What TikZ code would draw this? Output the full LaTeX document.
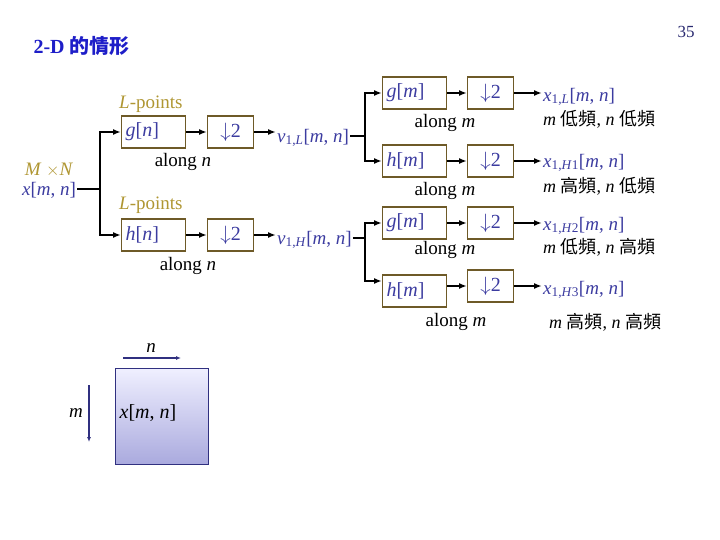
\documentclass[tikz,border=0pt]{standalone}
\usepackage{fontspec}
\setmainfont{Liberation Serif}
\newfontfamily\cjk{Noto Sans CJK TC}
\usetikzlibrary{arrows.meta}
\definecolor{tb}{RGB}{60,60,160}
\definecolor{ol}{RGB}{175,150,50}
\definecolor{bx}{RGB}{110,90,40}
\definecolor{ttl}{RGB}{30,30,200}
\newcommand{\ii}[1]{\textit{#1}}
\newcommand{\sbs}[1]{\textsubscript{#1}}
\begin{document}
\begin{tikzpicture}[x=1pt,y=-1pt,
  box/.style={draw=bx,line width=1.3pt,minimum height=32pt,inner sep=0pt,text=tb,font=\fontsize{20}{20}\selectfont},
  fbox/.style={box,text width=56pt,inner xsep=4pt,align=left},
  dbox/.style={box,minimum width=46pt},
  lab/.style={font=\fontsize{19}{19}\selectfont,inner sep=1pt},
  blu/.style={lab,text=tb},
  arr/.style={-{Latex[length=8pt,width=6pt]},line width=1.6pt},
  ln/.style={line width=1.2pt}]
\useasboundingbox (0,0) rectangle (720,540);
\node[anchor=west,text=ttl,font=\bfseries\fontsize{20}{20}\selectfont] (title) at (30,46) {2-D {\cjk 的情形}};
\node[text=tb!70!black,font=\fontsize{17}{17}\selectfont] (pg) at (686,32) {35};
% input
\node[lab,text=ol] (mn) at (49,170) {\ii{M} $\times$\ii{N}};
\node[blu] (x) at (49,190) {\ii{x}[\ii{m}, \ii{n}]};
\coordinate (sp) at (100,189);
\draw[ln] (x.east|-sp) -- (sp);
\node[fbox,anchor=west] (g1) at (121,132) {\ii{g}[\ii{n}]};
\node[dbox,anchor=west] (d1) at (207,132) {$\downarrow$2};
\node[fbox,anchor=west] (h1) at (121,235) {\ii{h}[\ii{n}]};
\node[dbox,anchor=west] (d2) at (207,235) {$\downarrow$2};
\draw[arr] (sp) |- (g1.west);
\draw[arr] (sp) |- (h1.west);
\draw[arr] (g1) -- (d1);
\draw[arr] (h1) -- (d2);
\node[lab,text=ol,anchor=west] (lp1) at (118,104) {\ii{L}-points};
\node[lab,text=ol,anchor=west] (lp2) at (118,205) {\ii{L}-points};
\node[lab] (an1) at (183,162) {along \ii{n}};
\node[lab] (an2) at (188,266) {along \ii{n}};
\node[blu,anchor=west] (v1) at (276,138) {\ii{v}\sbs{1,\ii{L}}[\ii{m}, \ii{n}]};
\node[blu,anchor=west] (v2) at (276,240) {\ii{v}\sbs{1,\ii{H}}[\ii{m}, \ii{n}]};
\draw[arr] (d1) -- (v1.west|-d1);
\draw[arr] (d2) -- (v2.west|-d2);
% right stage
\coordinate (s1) at (365,136);
\coordinate (s2) at (365,238);
\draw[ln] (v1.east|-s1) -- (s1);
\draw[ln] (v2.east|-s2) -- (s2);
\node[fbox,anchor=west] (g2) at (382,93) {\ii{g}[\ii{m}]};
\node[dbox,anchor=west] (d3) at (467,93) {$\downarrow$2};
\node[fbox,anchor=west] (h2) at (382,161) {\ii{h}[\ii{m}]};
\node[dbox,anchor=west] (d4) at (467,161) {$\downarrow$2};
\node[fbox,anchor=west] (g3) at (382,223) {\ii{g}[\ii{m}]};
\node[dbox,anchor=west] (d5) at (467,223) {$\downarrow$2};
\node[fbox,anchor=west] (h3) at (382,291) {\ii{h}[\ii{m}]};
\node[dbox,anchor=west] (d6) at (467,286) {$\downarrow$2};
\coordinate (h3in) at (382,281);
\draw[arr] (s1) |- (g2.west);
\draw[arr] (s1) |- (h2.west);
\draw[arr] (s2) |- (g3.west);
\draw[arr] (s2) |- (h3in);
\draw[arr] (g2) -- (d3);
\draw[arr] (h2) -- (d4);
\draw[arr] (g3) -- (d5);
\draw[arr] (h3.east|-d6) -- (d6);
\node[lab] (am1) at (445,123) {along \ii{m}};
\node[lab] (am2) at (445,191) {along \ii{m}};
\node[lab] (am3) at (445,250) {along \ii{m}};
\node[lab] (am4) at (456,322) {along \ii{m}};
\node[blu,anchor=west] (o1) at (542,97) {\ii{x}\sbs{1,\ii{L}}[\ii{m}, \ii{n}]};
\node[blu,anchor=west] (o2) at (542,163) {\ii{x}\sbs{1,\ii{H}1}[\ii{m}, \ii{n}]};
\node[blu,anchor=west] (o3) at (542,226) {\ii{x}\sbs{1,\ii{H}2}[\ii{m}, \ii{n}]};
\node[blu,anchor=west] (o4) at (542,290) {\ii{x}\sbs{1,\ii{H}3}[\ii{m}, \ii{n}]};
\draw[arr] (d3) -- (o1.west|-d3);
\draw[arr] (d4) -- (o2.west|-d4);
\draw[arr] (d5) -- (o3.west|-d5);
\draw[arr] (d6) -- (o4.west|-d6);
\node[lab,anchor=west,font=\fontsize{18}{18}\selectfont] (c1) at (542,119) {\ii{m} {\cjk 低頻}, \ii{n} {\cjk 低頻}};
\node[lab,anchor=west,font=\fontsize{18}{18}\selectfont] (c2) at (542,186) {\ii{m} {\cjk 高頻}, \ii{n} {\cjk 低頻}};
\node[lab,anchor=west,font=\fontsize{18}{18}\selectfont] (c3) at (542,247) {\ii{m} {\cjk 低頻}, \ii{n} {\cjk 高頻}};
\node[lab,anchor=west,font=\fontsize{18}{18}\selectfont] (c4) at (548,322) {\ii{m} {\cjk 高頻}, \ii{n} {\cjk 高頻}};
% matrix
\shade[top color=blue!6!white,bottom color={rgb,255:red,170;green,170;blue,222}] (115,368) rectangle (208,464);
\node[draw=tb!80!black,line width=0.8pt,minimum width=93pt,minimum height=96pt,inner sep=0pt] (sq) at (161.5,416) {};
\node[lab,font=\fontsize{20}{20}\selectfont] (xm) at (148,413) {\ii{x}[\ii{m}, \ii{n}]};
\coordinate (na) at (123,358);
\coordinate (nb) at (181,358);
\draw[-{Latex[length=5pt,width=4pt]},line width=1.5pt,tb!80!black] (na) -- (nb);
\node[lab] (nl) at (151,348) {\ii{n}};
\coordinate (ma) at (89,385);
\coordinate (mb) at (89,442);
\draw[-{Latex[length=5pt,width=4pt]},line width=1.5pt,tb!80!black] (ma) -- (mb);
\node[lab] (ml) at (76,413) {\ii{m}};
\end{tikzpicture}
\end{document}
